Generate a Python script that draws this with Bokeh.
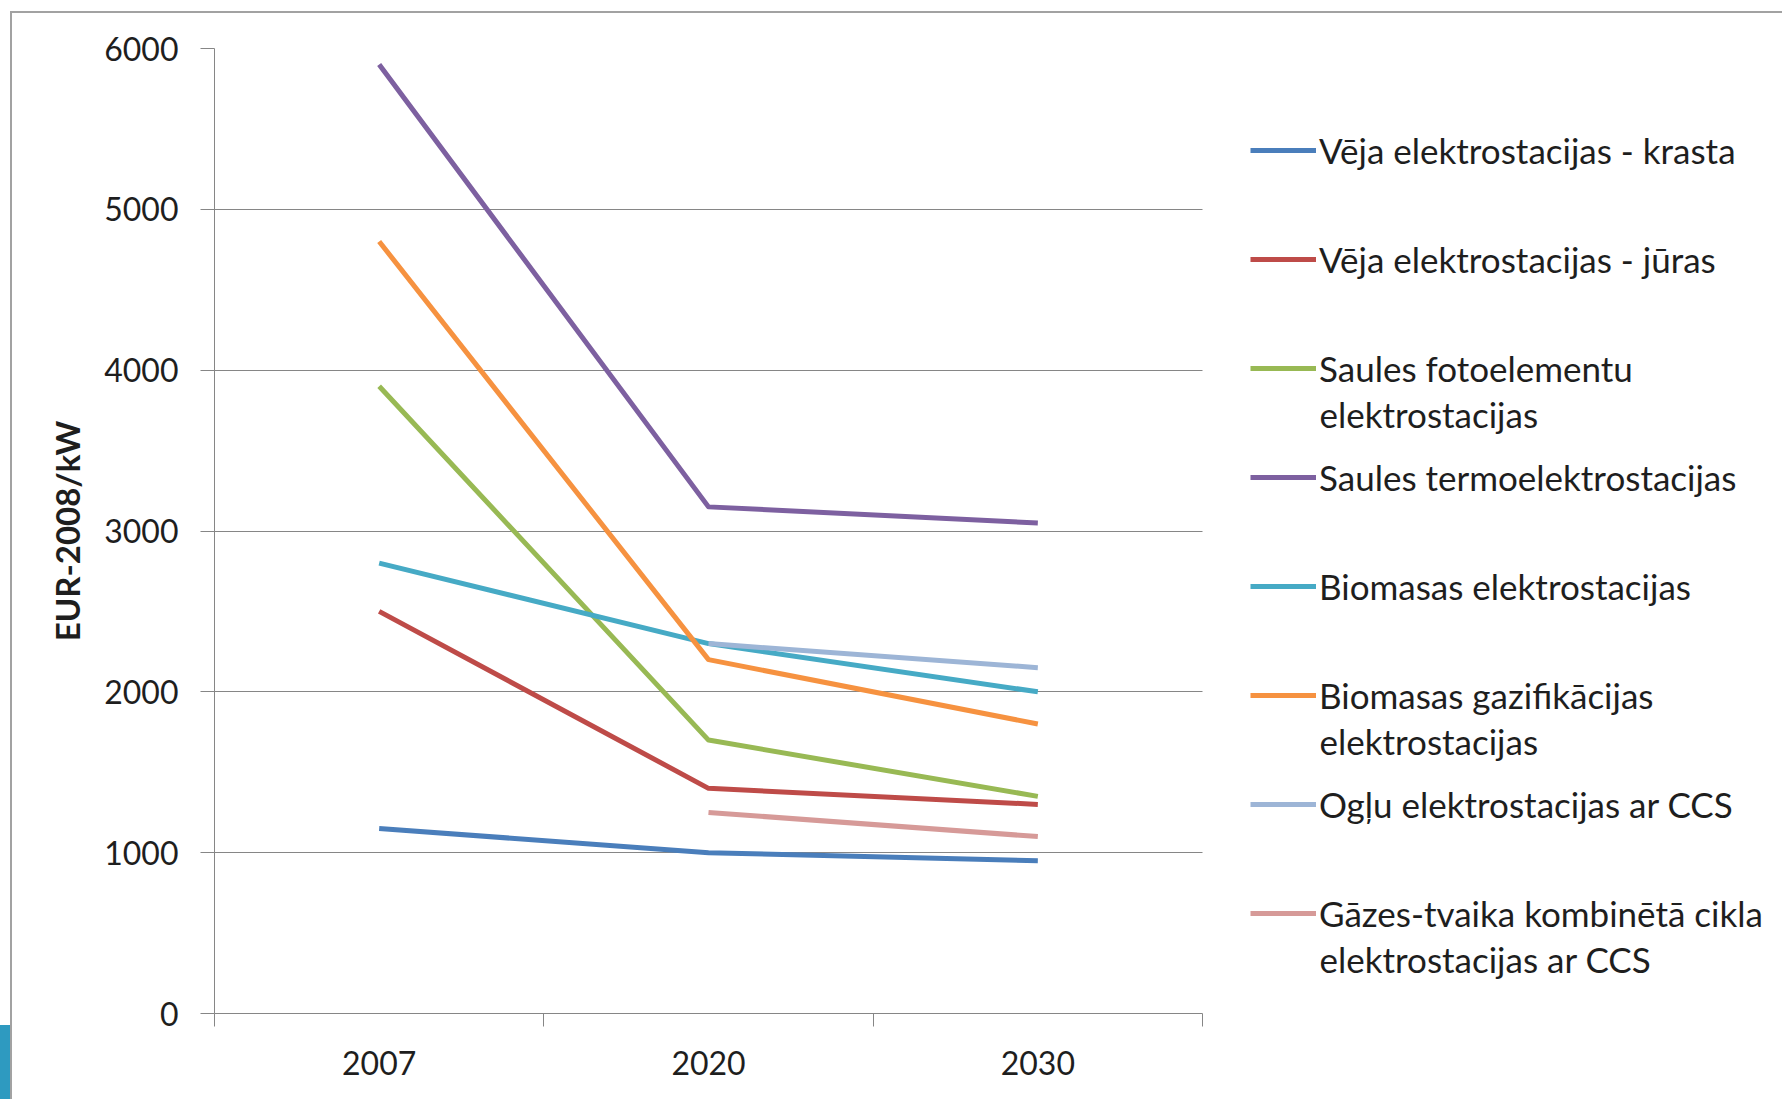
import json
import math

from bokeh.embed import file_html
from bokeh.models import (CustomJSTickFormatter, FixedTicker, Label, Legend,
                          LegendItem, Range1d)
from bokeh.plotting import figure
from bokeh.resources import INLINE

# ---- data -------------------------------------------------------------
years = ["2007", "2020", "2030"]

names = [
    "Vēja elektrostacijas - krasta",
    "Vēja elektrostacijas - jūras",
    "Saules fotoelementu elektrostacijas",
    "Saules termoelektrostacijas",
    "Biomasas elektrostacijas",
    "Biomasas gazifikācijas elektrostacijas",
    "Ogļu elektrostacijas ar CCS",
    "Gāzes-tvaika kombinētā cikla elektrostacijas ar CCS",
]

# legend wording split over lines
legend_lines = [
    ["Vēja elektrostacijas - krasta"],
    ["Vēja elektrostacijas - jūras"],
    ["Saules fotoelementu", "elektrostacijas"],
    ["Saules termoelektrostacijas"],
    ["Biomasas elektrostacijas"],
    ["Biomasas gazifikācijas", "elektrostacijas"],
    ["Ogļu elektrostacijas ar CCS"],
    ["Gāzes-tvaika kombinētā cikla", "elektrostacijas ar CCS"],
]

vejs_krasts = [1150, 1000, 950]
vejs_juras = [2500, 1400, 1300]
saules_foto = [3900, 1700, 1350]
saules_termo = [5900, 3150, 3050]
biomasa = [2800, 2300, 2000]
biomasa_gazif = [4800, 2200, 1800]
oglu_ccs = [None, 2300, 2150]
gazes_ccs = [None, 1250, 1100]

series = [vejs_krasts, vejs_juras, saules_foto, saules_termo,
          biomasa, biomasa_gazif, oglu_ccs, gazes_ccs]

colors = ["#4A7EBB", "#BE4B48", "#98B954", "#7D60A0",
          "#46AAC5", "#F69240", "#9DB5D6", "#D69A98"]

y_ticks = [0, 1000, 2000, 3000, 4000, 5000, 6000]

# ---- layout -----------------------------------------------------------
W, H = 1782, 1099
LEFT, TOP, BOTTOM = 214, 48, 86
PLOT_W = 988                      # width of the gridded plotting area
n = len(years)

FONT = "Lato"
FS = "32px"
LEG_FS = "35px"
TEXT = "#1e1e1e"
GRID = "#868686"
FRAME = "#a2a2a2"

# The frame stretches to the right edge so the legend can live inside it;
# grid and x axis are bounded to the three year slots.
p = figure(width=W, height=H, output_backend="svg", toolbar_location=None,
           x_range=Range1d(0, n * (W - LEFT) / PLOT_W), y_range=Range1d(0, 6000),
           min_border_left=LEFT, min_border_right=0,
           min_border_top=TOP, min_border_bottom=BOTTOM)
p.outline_line_color = None
p.background_fill_alpha = 0
p.border_fill_alpha = 0
# slide frame (top and left rules) and the coloured corner tab
p.styles = {
    "background-color": "white",
    "background-image": (f"linear-gradient({FRAME},{FRAME}), "
                         f"linear-gradient({FRAME},{FRAME}), "
                         "linear-gradient(#2E9AC0,#2E9AC0)"),
    "background-position": "10px 11px, 10px 11px, 0px 1025px",
    "background-size": "100% 2px, 2px 100%, 10px 80px",
    "background-repeat": "no-repeat",
}

xs = [i + 0.5 for i in range(n)]

renderers = []
for vals, col in zip(series, colors):
    ys = [math.nan if v is None else v for v in vals]
    r = p.line(xs, ys, line_color=col, line_width=5, line_join="round")
    renderers.append(r)

# ---- axes -------------------------------------------------------------
xa = p.xaxis[0]
xa.bounds = (0, n)
xa.ticker = FixedTicker(ticks=xs, minor_ticks=list(range(n + 1)))
xa.formatter = CustomJSTickFormatter(
    code=f"const y = {json.dumps(years)}; const v = y[Math.floor(tick)]; return v === undefined ? '' : v;")
xa.major_tick_out = 0
xa.major_tick_in = 0
xa.minor_tick_out = 13
xa.minor_tick_in = 0
xa.minor_tick_line_color = GRID
xa.axis_line_color = GRID
xa.major_label_standoff = 24
xa.major_label_text_font = FONT
xa.major_label_text_font_size = FS
xa.major_label_text_color = TEXT

ya = p.yaxis[0]
ya.ticker = FixedTicker(ticks=y_ticks, minor_ticks=[])
ya.major_tick_out = 14
ya.major_tick_in = 0
ya.major_tick_line_color = GRID
ya.axis_line_color = GRID
ya.major_label_standoff = 22
ya.major_label_text_font = FONT
ya.major_label_text_font_size = FS
ya.major_label_text_color = TEXT
ya.axis_label = "EUR-2008/kW"
ya.axis_label_text_font = FONT
ya.axis_label_text_font_style = "bold"
ya.axis_label_text_font_size = "33px"
ya.axis_label_text_color = TEXT
ya.axis_label_standoff = 14

p.xgrid.grid_line_color = None
p.ygrid.grid_line_color = GRID
p.ygrid.grid_line_width = 1
p.ygrid.ticker = FixedTicker(ticks=y_ticks)
p.ygrid.cross_bounds = (0, n)

# ---- legend -----------------------------------------------------------
ROW_H, ROW_GAP = 44, 65
first_center = 150
legend_top = first_center - ROW_H // 2
legend_h = len(names) * ROW_H + (len(names) - 1) * ROW_GAP
frame_bottom = H - BOTTOM
legend = Legend(
    items=[LegendItem(label=lines[0], renderers=[r])
           for lines, r in zip(legend_lines, renderers)],
    location=(1250 - LEFT, frame_bottom - (legend_top + legend_h)),
    orientation="vertical",
    glyph_width=66, glyph_height=20, label_standoff=3,
    label_height=ROW_H, spacing=ROW_GAP,
    padding=0, margin=0,
    border_line_color=None, background_fill_alpha=0,
    label_text_font=FONT, label_text_font_size=LEG_FS,
    label_text_color=TEXT,
)
p.add_layout(legend, "center")

# second lines of the wrapped legend entries
for i, lines in enumerate(legend_lines):
    for j, extra in enumerate(lines[1:], start=1):
        cy = first_center + i * (ROW_H + ROW_GAP) + 45 * j
        p.add_layout(Label(
            x=1319 - LEFT, y=frame_bottom - cy,
            x_units="screen", y_units="screen",
            text=extra, text_font=FONT, text_font_size=LEG_FS,
            text_color=TEXT, text_align="left", text_baseline="middle"))

open("out.html", "w").write(file_html(p, INLINE))
